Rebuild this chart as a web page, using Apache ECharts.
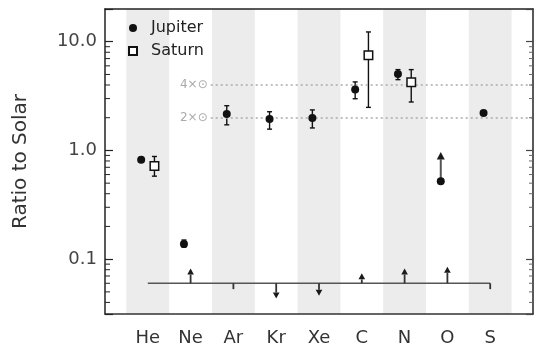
<!DOCTYPE html>
<html>
<head>
<meta charset="utf-8">
<script src="https://cdn.jsdelivr.net/npm/echarts@6/dist/echarts.min.js"></script>
<style>
html, body { margin: 0; padding: 0; background: #fff; }
#main { width: 536px; height: 353px; }
</style>
</head>
<body>
<div id="main"></div>
<script>
var myChart = echarts.init(document.getElementById('main'));

// 元素 / elements
var elements = ['He', 'Ne', 'Ar', 'Kr', 'Xe', 'C', 'N', 'O', 'S'];

// Jupiter (filled circles)
var jupiter     = [0.82, 0.138, 2.16, 1.95, 1.99, 3.63, 5.06, 0.52, 2.21];
var jupiterLow  = [null, 0.129, 1.72, 1.57, 1.61, 2.99, 4.48, null, null];
var jupiterHigh = [null, 0.150, 2.58, 2.27, 2.36, 4.27, 5.54, null, null];
// lower limit arrow (O)
var jupiterLimit = [null, null, null, null, null, null, null, 0.97, null];

// Saturn (open squares)
var saturn     = [0.72, null, null, null, null, 7.5, 4.24, null, null];
var saturnLow  = [0.58, null, null, null, null, 2.49, 2.79, null, null];
var saturnHigh = [0.88, null, null, null, null, 12.3, 5.54, null, null];

// bottom arrow row
var arrowBase = 0.06;
var arrowTips = [0.06, 0.082, 0.053, 0.0435, 0.046, 0.074, 0.082, 0.085, 0.053];

// dotted reference lines
var refValues = [4, 2];
var refLabels = ['4×⊙', '2×⊙'];

// minor ticks of the log axis
var minorTicks = [0.04, 0.05, 0.06, 0.07, 0.08, 0.09,
	0.2, 0.3, 0.4, 0.5, 0.6, 0.7, 0.8, 0.9,
	2, 3, 4, 5, 6, 7, 8, 9];

var shift = 0.155;   // side offset of Jupiter / Saturn within a category
var refStart = 1.47;
var xMin = -1, xMax = 9;

function errData(vals, lo, hi, dx) {
	var out = [];
	for(var i = 0; i < vals.length; i++) {
		if(lo[i] != null) out.push([i + dx, lo[i], hi[i]]);
	}
	return out;
}

function pointData(vals, dx) {
	var out = [];
	for(var i = 0; i < vals.length; i++) {
		if(vals[i] != null) out.push([i + dx, vals[i]]);
	}
	return out;
}

function renderErr(params, api) {
	var x = api.value(0);
	var p1 = api.coord([x, api.value(1)]);
	var p2 = api.coord([x, api.value(2)]);
	var c = 2.5;
	var st = {stroke: '#111', lineWidth: 1.4};
	return {
		type: 'group',
		children: [
			{type: 'line', shape: {x1: p1[0], y1: p1[1], x2: p2[0], y2: p2[1]}, style: st},
			{type: 'line', shape: {x1: p1[0] - c, y1: p1[1], x2: p1[0] + c, y2: p1[1]}, style: st},
			{type: 'line', shape: {x1: p2[0] - c, y1: p2[1], x2: p2[0] + c, y2: p2[1]}, style: st}
		]
	};
}

// arrow from value(1) to value(2); size given by the series
function arrowRenderer(hw, hh, stem, stemWidth) {
	return function(params, api) {
		var x = api.value(0);
		var p1 = api.coord([x, api.value(1)]);
		var p2 = api.coord([x, api.value(2)]);
		var len = p2[1] - p1[1];
		var dir = len < 0 ? -1 : 1;
		var children = [];
		if(Math.abs(len) > 9) {
			children.push({type: 'line', shape: {x1: p1[0], y1: p1[1], x2: p2[0], y2: p2[1] - dir * hh},
				style: {stroke: stem, lineWidth: stemWidth}});
			children.push({type: 'polygon', shape: {points: [[p2[0], p2[1]], [p2[0] - hw, p2[1] - dir * hh], [p2[0] + hw, p2[1] - dir * hh]]},
				style: {fill: '#1a1a1a'}});
		} else if(Math.abs(len) > 0.5) {
			children.push({type: 'line', shape: {x1: p1[0], y1: p1[1], x2: p2[0], y2: p2[1]},
				style: {stroke: stem, lineWidth: stemWidth}});
		}
		return {type: 'group', children: children};
	};
}

function renderMinor(params, api) {
	var y = api.coord([0, api.value(1)])[1];
	var cs = params.coordSys;
	return {
		type: 'group',
		children: [
			{type: 'line', shape: {x1: cs.x, y1: y, x2: cs.x + 5, y2: y}, style: {stroke: '#222', lineWidth: 1}},
			{type: 'line', shape: {x1: cs.x + cs.width, y1: y, x2: cs.x + cs.width - 4, y2: y}, style: {stroke: '#666', lineWidth: 1}}
		]
	};
}

var bands = [];
for(var i = 0; i < elements.length; i += 2) {
	bands.push([{xAxis: i - 0.5}, {xAxis: i + 0.5}]);
}

var limitData = [];
var arrowData = [];
for(var i = 0; i < elements.length; i++) {
	if(jupiterLimit[i] != null) limitData.push([i - shift, jupiter[i], jupiterLimit[i]]);
	arrowData.push([i, arrowBase, arrowTips[i]]);
}

var refData = refValues.map(function(v, i) {
	return [{coord: [refStart, v], label: {formatter: refLabels[i]}}, {coord: [xMax, v]}];
});

function logLabel(v) {
	var l = Math.log(v) / Math.LN10;
	if(Math.abs(l - Math.round(l)) > 1e-6) return '';
	return Math.pow(10, Math.round(l)).toFixed(1);
}

var font = '"DejaVu Sans", sans-serif';

myChart.setOption({
	backgroundColor: '#fff',
	animation: false,
	textStyle: {fontFamily: font},
	grid: {left: 105, top: 9, right: -2, bottom: 39},
	legend: {
		left: 128,
		top: 18,
		padding: 0,
		orient: 'vertical',
		itemWidth: 26,
		itemHeight: 8,
		itemGap: 3,
		textStyle: {fontSize: 16, color: '#222', fontFamily: font, lineHeight: 20},
		data: [
			{name: 'Jupiter', icon: 'circle'},
			{name: 'Saturn', icon: 'path://M0,0L10,0L10,10L0,10Z'}
		]
	},
	xAxis: [{
		type: 'value',
		min: xMin,
		max: xMax,
		interval: 1,
		z: 10,
		axisLine: {onZero: false, lineStyle: {color: '#333', width: 1.5}},
		axisTick: {show: false},
		splitLine: {show: false},
		axisLabel: {
			fontSize: 18,
			color: '#333',
			margin: 15,
			formatter: function(v) { return elements[v] || ''; }
		}
	}, {
		type: 'value',
		position: 'top',
		min: xMin,
		max: xMax,
		z: 10,
		axisLine: {onZero: false, lineStyle: {color: '#222', width: 1.5}},
		axisTick: {show: false},
		splitLine: {show: false},
		axisLabel: {show: false}
	}],
	yAxis: [{
		type: 'log',
		min: 0.0313,
		max: 20,
		z: 10,
		name: 'Ratio to Solar',
		nameLocation: 'middle',
		nameGap: 74,
		nameTextStyle: {fontSize: 20, color: '#333'},
		axisLine: {onZero: false, lineStyle: {color: '#222', width: 1.5}},
		axisTick: {inside: true, length: 8, lineStyle: {color: '#222', width: 1.2}},
		splitLine: {show: false},
		axisLabel: {fontSize: 18, color: '#444', margin: 8, formatter: logLabel}
	}, {
		type: 'log',
		position: 'right',
		min: 0.0313,
		max: 20,
		z: 10,
		axisLine: {onZero: false, lineStyle: {color: '#222', width: 1.5}},
		axisTick: {inside: true, length: 7, lineStyle: {color: '#444', width: 1.2}},
		splitLine: {show: false},
		axisLabel: {show: false}
	}],
	series: [
		{
			name: 'bands',
			type: 'line',
			data: [],
			z: 1,
			silent: true,
			markArea: {silent: true, itemStyle: {color: '#ececec'}, data: bands}
		},
		{
			name: 'ref',
			type: 'line',
			data: [],
			z: 2,
			markLine: {
				silent: true,
				symbol: ['none', 'none'],
				lineStyle: {color: '#aaa', type: [2, 3], width: 1.5},
				label: {position: 'start', color: '#aaa', fontSize: 12, distance: 3},
				data: refData
			}
		},
		{
			name: 'minor',
			type: 'custom',
			z: 11,
			silent: true,
			renderItem: renderMinor,
			encode: {x: 0, y: 1},
			data: minorTicks.map(function(v) { return [0, v]; })
		},
		{
			name: 'baseline',
			type: 'line',
			z: 3,
			symbol: 'none',
			lineStyle: {color: '#555', width: 1.5},
			data: elements.map(function(e, i) { return [i, arrowBase]; })
		},
		{
			name: 'arrows',
			type: 'custom',
			z: 4,
			renderItem: arrowRenderer(3.3, 6, '#333', 1.8),
			encode: {x: 0, y: [1, 2]},
			data: arrowData
		},
		{
			name: 'limit',
			type: 'custom',
			z: 4,
			renderItem: arrowRenderer(4, 7.5, '#555', 2),
			encode: {x: 0, y: [1, 2]},
			data: limitData
		},
		{
			name: 'jupErr',
			type: 'custom',
			z: 4,
			renderItem: renderErr,
			encode: {x: 0, y: [1, 2]},
			data: errData(jupiter, jupiterLow, jupiterHigh, -shift)
		},
		{
			name: 'satErr',
			type: 'custom',
			z: 4,
			renderItem: renderErr,
			encode: {x: 0, y: [1, 2]},
			data: errData(saturn, saturnLow, saturnHigh, shift)
		},
		{
			name: 'Jupiter',
			type: 'scatter',
			z: 5,
			symbol: 'circle',
			symbolSize: 8,
			itemStyle: {color: '#111', opacity: 1},
			data: pointData(jupiter, -shift)
		},
		{
			name: 'Saturn',
			type: 'scatter',
			z: 5,
			symbol: 'rect',
			symbolSize: 8.5,
			itemStyle: {color: '#fff', borderColor: '#111', borderWidth: 1.5, opacity: 1},
			data: pointData(saturn, shift)
		}
	]
});
</script>
</body>
</html>
